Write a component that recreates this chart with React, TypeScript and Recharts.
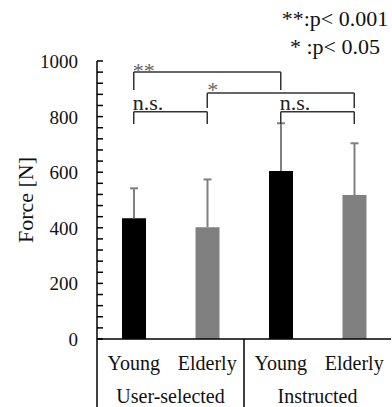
import {
  BarChart,
  Bar,
  Cell,
  XAxis,
  YAxis,
  ReferenceLine,
  ReferenceDot,
} from "recharts";

// bars
const ids = ["yu", "eu", "yi", "ei"];
const ages = ["Young", "Elderly", "Young", "Elderly"];
const groups = ["User-selected", "User-selected", "Instructed", "Instructed"];
const force = [434, 402, 604, 518];
const sd = [108, 172, 172, 186];

// y axis
const yTicks = [
  0, 40, 80, 120, 160, 200, 240, 280, 320, 360, 400, 440, 480, 520, 560, 600,
  640, 680, 720, 760, 800, 840, 880, 920, 960, 1000,
];
const yLabels = [0, 200, 400, 600, 800, 1000];

// significance brackets
const brFrom = ["yu", "eu", "yu", "yi"];
const brTo = ["yi", "ei", "eu", "ei"];
const brTop = [960, 885, 817, 817];
const brLeg = [896, 831, 773, 773];
const brText = ["**", "*", "n.s.", "n.s."];

const legendLines = ["**:p< 0.001", "* :p< 0.05"];

const W = 392;
const H = 407;
const M = { top: 61, right: 1, bottom: 0, left: 0 };
const Y_W = 97;
const X_H = 68;
const BAND = (W - M.left - M.right - Y_W) / ids.length;
const FONT = "Liberation Serif";
const barColors = ["#000000", "#808080", "#000000", "#808080"];
const brOffset: Record<string, [number, number, string]> = {
  "**": [-1, 6, "#666"],
  "*": [0, 4, "#666"],
  "n.s.": [-1, -2, "#222"],
};

const txt = (size: number) => ({ fontFamily: FONT, fontSize: size });

const data = ids.map((id, i) => ({
  id,
  age: ages[i],
  group: groups[i],
  force: force[i],
  sd: sd[i],
}));

// upper error whisker, drawn on the stacked sd segment
const ErrShape = (props: any) => {
  const { x, y, width, height } = props;
  const cx = x + width / 2;
  return (
    <g stroke="#808080" strokeWidth={2}>
      <line x1={cx} x2={cx} y1={y + height} y2={y} />
      <line x1={cx - 4} x2={cx + 4} y1={y} y2={y} />
    </g>
  );
};

const ForceTick = (props: any) => {
  const { x, y, payload } = props;
  const v = payload.value;
  return (
    <g>
      <line x1={x} x2={x + 6} y1={y} y2={y} stroke="#000" strokeWidth={1.5} />
      {yLabels.includes(v) && (
        <text x={x - 19} y={y + 7} textAnchor="end" fill="#111" style={txt(19)}>
          {v}
        </text>
      )}
    </g>
  );
};

const AgeTick = (props: any) => {
  const { x, y, index } = props;
  const d = data[index];
  const first = index === 0 || data[index - 1].group !== d.group;
  return (
    <g>
      <text x={x} y={y + 31} textAnchor="middle" fill="#111" style={txt(20)}>
        {d.age}
      </text>
      {first && (
        <>
          <line
            x1={x - BAND / 2}
            x2={x - BAND / 2}
            y1={y}
            y2={y + X_H}
            stroke="#000"
            strokeWidth={1.5}
          />
          <text
            x={x + BAND / 2}
            y={y + 64}
            textAnchor="middle"
            fill="#111"
            style={txt(20)}
          >
            {d.group}
          </text>
        </>
      )}
    </g>
  );
};

const App = () => {
  return (
    <div style={{ position: "absolute", left: 0, top: 0, width: W, height: H }}>
      <BarChart width={W} height={H} data={data} margin={M}>
        <XAxis
          dataKey="id"
          height={X_H}
          interval={0}
          tickLine={false}
          tickSize={0}
          tickMargin={0}
          tick={<AgeTick />}
          axisLine={{ stroke: "#000", strokeWidth: 1.5 }}
        />
        <XAxis
          xAxisId="top"
          orientation="top"
          height={0}
          tick={false}
          tickLine={false}
          axisLine={{ stroke: "#000", strokeWidth: 1.5 }}
        />
        <YAxis
          width={Y_W}
          domain={[0, 1000]}
          ticks={yTicks}
          interval={0}
          tickLine={false}
          tickSize={0}
          tickMargin={0}
          tick={<ForceTick />}
          axisLine={{ stroke: "#000", strokeWidth: 1.5 }}
          label={{
            content: (p: any) => {
              const vb = p.viewBox;
              const cx = vb.x + 33;
              const cy = vb.y + vb.height / 2;
              return (
                <text
                  x={cx}
                  y={cy}
                  transform={`rotate(-90 ${cx} ${cy})`}
                  textAnchor="middle"
                  fill="#111"
                  style={txt(22)}
                >
                  Force [N]
                </text>
              );
            },
          }}
        />
        <YAxis
          yAxisId="right"
          orientation="right"
          width={0}
          tick={false}
          tickLine={false}
          axisLine={{ stroke: "#000", strokeWidth: 1.5 }}
        />
        <Bar dataKey="force" stackId="s" barSize={24} isAnimationActive={false}>
          {data.map((d, i) => (
            <Cell key={d.id} fill={barColors[i]} />
          ))}
        </Bar>
        <Bar
          dataKey="sd"
          stackId="s"
          barSize={24}
          shape={<ErrShape />}
          isAnimationActive={false}
        />
        {brText.map((t, i) => (
          <ReferenceLine
            key={"h" + i}
            segment={[
              { x: brFrom[i], y: brTop[i] },
              { x: brTo[i], y: brTop[i] },
            ]}
            stroke="#333"
            strokeWidth={1.5}
          />
        ))}
        {brText.map((t, i) => (
          <ReferenceLine
            key={"l" + i}
            segment={[
              { x: brFrom[i], y: brTop[i] },
              { x: brFrom[i], y: brLeg[i] },
            ]}
            stroke="#333"
            strokeWidth={1.5}
          />
        ))}
        {brText.map((t, i) => (
          <ReferenceLine
            key={"r" + i}
            segment={[
              { x: brTo[i], y: brTop[i] },
              { x: brTo[i], y: brLeg[i] },
            ]}
            stroke="#333"
            strokeWidth={1.5}
          />
        ))}
        {brText.map((t, i) => (
          <ReferenceDot
            key={"t" + i}
            x={brFrom[i]}
            y={brTop[i]}
            r={0}
            shape={(p: any) => (
              <text
                x={p.cx + brOffset[t][0]}
                y={p.cy + brOffset[t][1]}
                textAnchor="start"
                fill={brOffset[t][2]}
                style={txt(22)}
              >
                {t}
              </text>
            )}
          />
        ))}
      </BarChart>
      <svg
        width={W}
        height={60}
        style={{ position: "absolute", left: 0, top: 0, pointerEvents: "none" }}
      >
        {legendLines.map((s, i) => (
          <text
            key={s}
            x={335}
            y={26 + i * 28}
            textAnchor="middle"
            fill="#111"
            style={{ ...txt(22), whiteSpace: "pre" }}
          >
            {s}
          </text>
        ))}
      </svg>
    </div>
  );
};

export default App;
